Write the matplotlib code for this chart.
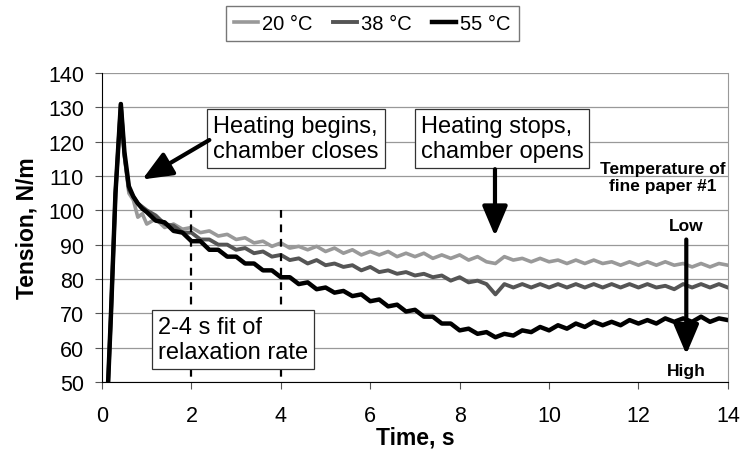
import numpy as np
import matplotlib
matplotlib.use('Agg')
import matplotlib.pyplot as plt

plt.rcParams['font.family'] = ['Liberation Sans', 'DejaVu Sans']

# time axis, s (fast start, then 0.2 s steps)
t_start = [0.12, 0.2, 0.3, 0.42, 0.5, 0.6, 0.7, 0.8, 0.9]
t_tail = list(np.round(np.arange(1.0, 14.01, 0.2), 1))
time = np.array(t_start + t_tail)

# tension, N/m
t20 = [45, 70, 105, 131, 116, 105, 103, 98, 99,
       96.0, 97.5, 95.0, 96.0, 94.5, 95.0, 93.5, 94.0, 92.5, 93.0,
       91.5, 92.0, 90.5, 91.0, 89.5, 90.5, 89.0, 89.5, 88.5, 89.5,
       88.0, 89.0, 87.5, 88.5, 87.0, 88.0, 87.0, 88.0, 86.5, 87.5,
       86.5, 87.5, 86.0, 87.0, 86.0, 87.0, 85.5, 86.5, 85.0, 84.5,
       86.5, 85.5, 86.0, 85.0, 86.0, 85.0, 85.5, 84.5, 85.5, 84.5,
       85.5, 84.5, 85.0, 84.0, 85.0, 84.0, 85.0, 84.0, 85.0, 84.0,
       84.5, 83.5, 84.5, 83.5, 84.5, 84.0]
t38 = [45, 70, 105, 131, 116, 106, 104, 102, 101,
       100.0, 98.5, 96.0, 95.5, 93.5, 93.5, 91.5, 91.5, 90.0, 90.0,
       88.5, 89.0, 87.5, 88.0, 86.5, 87.0, 85.5, 86.0, 84.5, 85.5,
       84.0, 84.5, 83.5, 84.0, 82.5, 83.5, 82.0, 82.5, 81.5, 82.0,
       81.0, 81.5, 80.5, 81.0, 79.5, 80.5, 79.0, 79.5, 78.5, 75.5,
       78.5, 77.5, 78.5, 77.5, 78.5, 77.5, 78.5, 77.5, 78.5, 77.5,
       78.5, 77.5, 78.5, 77.5, 78.5, 77.5, 78.5, 77.5, 78.0, 77.0,
       78.5, 77.5, 78.5, 77.5, 78.5, 77.5]
t55 = [45, 70, 105, 131, 117, 107, 104, 102, 100.5,
       99.5, 97.0, 96.5, 94.0, 93.5, 91.0, 91.0, 88.5, 88.5, 86.5,
       86.5, 84.5, 84.5, 82.5, 82.5, 80.5, 80.5, 78.5, 79.0, 77.0,
       77.5, 76.0, 76.5, 75.0, 75.5, 73.5, 74.0, 72.0, 72.5, 70.5,
       71.0, 69.0, 69.0, 67.0, 67.0, 65.0, 65.5, 64.0, 64.5, 63.0,
       64.0, 63.5, 65.0, 64.5, 66.0, 65.0, 66.5, 65.5, 67.0, 66.0,
       67.5, 66.5, 67.5, 66.5, 68.0, 67.0, 68.0, 67.0, 68.5, 67.5,
       68.5, 67.5, 69.0, 67.5, 68.5, 68.0]

labels = ['20 °C', '38 °C', '55 °C']
colors = ['#999999', '#555555', '#000000']
widths = [2.6, 2.8, 3.2]

fig = plt.figure(figsize=(7.45, 4.52), dpi=100)
ax = fig.add_axes([0.137, 0.153, 0.84, 0.683])

lines = []
for y, lab, c, w in zip([t20, t38, t55], labels, colors, widths):
    l, = ax.plot(time, y, color=c, lw=w, label=lab)
    lines.append(l)

# fit window
for xv in [2, 4]:
    ax.plot([xv, xv], [100, 50], color='k', lw=1.6, ls=(0, (3.5, 3)))

ax.set_xlim(0, 14)
ax.set_ylim(50, 140)
ax.set_xticks(range(0, 15, 2))
ax.set_yticks(range(50, 141, 10))
ax.yaxis.grid(True, color='#999999', lw=0.9)
ax.set_axisbelow(True)
ax.spines['top'].set_visible(False)
ax.spines['right'].set_color('#999999')
ax.tick_params(direction='out', length=5, labelsize=15.5, color='#555555')
ax.tick_params(axis='y', pad=8)
ax.tick_params(axis='x', pad=12)
ax.set_xlabel('Time, s', fontsize=16.5, fontweight='bold', labelpad=-1)
ax.set_ylabel('Tension, N/m', fontsize=16.5, fontweight='bold', labelpad=7)

box = dict(boxstyle='square,pad=0.25', fc='white', ec='#333333', lw=0.9)
arrow = dict(arrowstyle='-|>,head_width=0.55,head_length=1.3', lw=3.0, color='black',
             shrinkA=0, shrinkB=0, mutation_scale=14)

ax.text(4.34, 121, 'Heating begins,\nchamber closes', fontsize=17, ha='center', va='center',
        multialignment='left', bbox=box)
ax.annotate('', xy=(0.9, 109), xytext=(2.4, 120.5), arrowprops=arrow)

ax.text(8.95, 121, 'Heating stops,\nchamber opens', fontsize=17, ha='center', va='center',
        multialignment='left', bbox=box)
ax.annotate('', xy=(8.79, 92.5), xytext=(8.79, 112), arrowprops=arrow)

ax.text(2.93, 62.4, '2-4 s fit of\nrelaxation rate', fontsize=17, ha='center', va='center',
        multialignment='left', bbox=box)

ax.text(12.55, 109.8, 'Temperature of\nfine paper #1', fontsize=12.5, fontweight='bold',
        ha='center', va='center')
ax.text(13.07, 95.5, 'Low', fontsize=12.5, fontweight='bold', ha='center', va='center')
ax.annotate('', xy=(13.07, 58), xytext=(13.07, 91.5), arrowprops=arrow)
ax.text(13.07, 53.4, 'High', fontsize=12.5, fontweight='bold', ha='center', va='center')

fig.legend(lines, labels, loc='center', bbox_to_anchor=(0.5, 0.945), ncol=3,
           fontsize=14.5, frameon=True, fancybox=False, edgecolor='#555555',
           handlelength=1.2, handletextpad=0.2, columnspacing=1.0, borderpad=0.4)

fig.savefig('out.png', dpi=100)
